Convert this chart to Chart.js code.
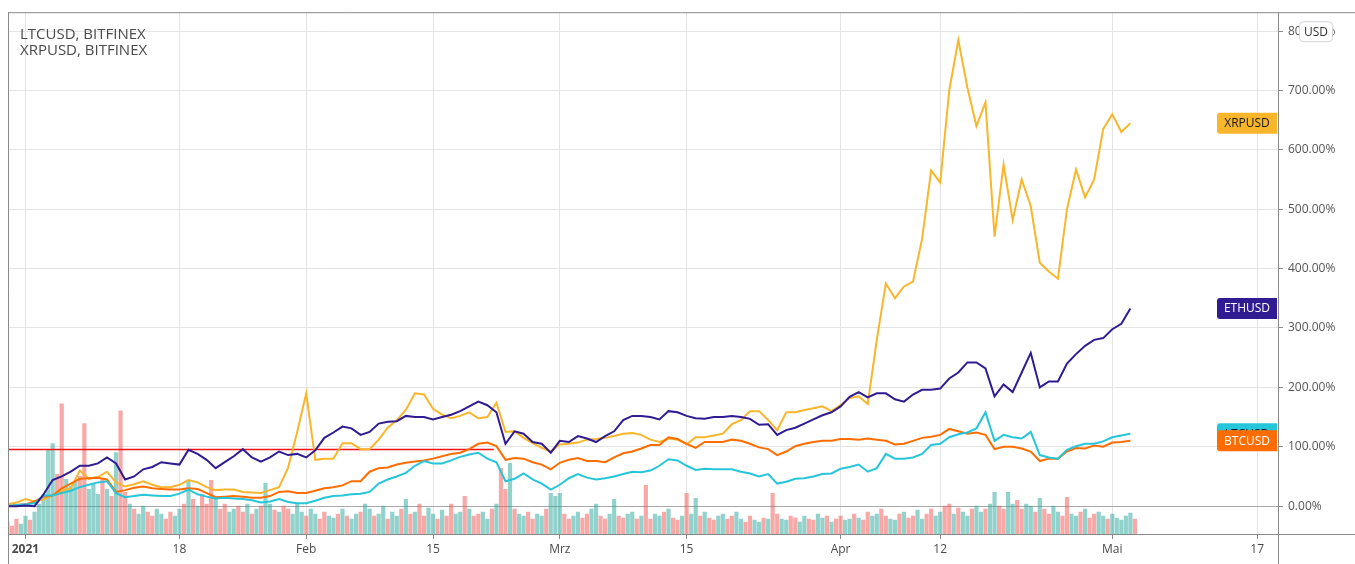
<!DOCTYPE html>
<html><head><meta charset="utf-8">
<script src="https://cdn.jsdelivr.net/npm/chart.js@4.4.1/dist/chart.umd.min.js"></script>
<style>html,body{margin:0;padding:0;background:#fff;}#wrap{width:1355px;height:564px;position:relative;}canvas{display:block;}</style>
</head><body><div id="wrap"><canvas id="c" width="1355" height="564"></canvas></div>
<script>
// Day index relative to 1 Jan 2021 of the first data point (daily values)
const startDay = -2;
const ethPct = [0,0,1,0,20,44,50,58,68,68,72,82,72,45,50,62,66,74,72,70,95,88,78,64,74,84,96,82,75,82,92,86,88,82,94,115,124,134,131,120,125,139,142,143,152,150,150,146,150,154,160,168,176,170,158,105,126,122,108,105,90,110,108,118,114,108,118,126,145,152,152,150,146,160,158,152,148,147,150,150,152,150,147,137,138,120,128,132,139,146,153,158,168,184,192,183,190,190,180,176,188,196,196,198,215,225,242,242,232,185,205,192,225,258,200,210,210,240,256,270,280,283,298,307,333];
const btcPct = [0,2,3,8,16,18,30,38,46,47,48,45,24,27,31,33,30,29,28,28,30,29,22,15,16,17,16,14,14,17,24,25,22,22,26,30,32,35,42,42,58,64,65,70,73,75,77,80,84,88,90,96,105,107,101,78,81,80,74,70,62,73,78,81,76,76,74,82,89,92,97,103,103,116,113,105,98,108,108,108,112,110,105,99,96,86,92,101,105,108,110,110,113,113,112,114,112,110,104,105,110,115,117,120,130,126,122,124,120,96,100,100,97,92,76,80,80,92,98,97,102,100,107,108,110];
const ltcPct = [0,2,3,5,18,18,22,26,32,36,40,42,22,15,17,19,18,17,17,21,28,20,16,13,14,13,12,10,6,8,12,7,5,5,9,14,17,18,20,21,24,38,45,50,56,68,76,72,72,77,83,87,90,80,74,42,46,55,45,38,28,36,47,54,48,45,47,50,54,58,57,60,68,79,77,68,61,63,62,62,62,58,55,50,54,38,41,46,47,50,54,55,63,66,70,58,64,88,80,80,82,88,103,105,116,121,124,131,158,110,120,116,114,125,86,82,80,95,101,105,105,109,116,119,122];
const xrpPct = [3,6,12,8,11,18,26,30,60,46,49,58,40,33,37,42,36,32,32,36,44,40,32,27,28,28,24,23,22,27,32,65,125,190,78,80,80,106,106,96,96,112,132,145,162,190,188,164,154,148,152,158,148,150,174,125,126,115,106,98,92,104,105,107,112,113,115,118,122,123,120,112,108,114,112,104,116,116,119,122,138,145,160,160,145,128,158,158,162,165,168,160,170,182,185,172,280,375,350,370,378,450,565,545,700,785,705,640,680,454,575,482,550,505,410,395,383,500,567,520,550,635,660,630,645];
// Volume of the main symbol, two bars per day (arbitrary units), and bar direction (1 = up, 0 = down)
const volume = [12,8,15,10,18,14,22,30,40,85,91,60,131,55,48,52,58,111,45,50,40,55,45,38,82,124,42,30,25,20,28,22,18,25,20,15,22,18,25,30,54,35,28,40,30,54,35,25,30,22,25,28,22,30,20,25,28,51,30,24,22,28,25,20,30,22,18,25,20,15,22,18,16,20,25,18,15,20,22,30,25,18,20,28,15,22,18,25,35,20,22,30,18,26,20,15,24,18,30,20,22,38,25,18,20,22,15,25,30,66,45,71,25,20,18,22,15,20,18,25,41,38,41,20,15,18,22,16,20,25,30,18,15,20,35,18,16,20,22,15,18,49,15,20,18,22,25,16,14,18,41,20,36,18,22,16,14,18,20,15,18,22,15,12,18,14,12,16,15,41,20,15,14,18,16,12,18,15,14,20,16,18,12,15,18,14,15,20,16,14,22,18,20,25,18,15,14,20,22,16,18,24,15,20,25,18,22,28,30,20,26,22,18,25,28,22,25,30,42,28,25,42,30,34,25,30,28,22,36,25,20,28,22,18,37,20,18,22,25,16,20,22,18,15,20,16,14,18,21,15];
const volUp = [1,0,0,1,1,0,1,1,1,1,1,0,0,1,1,1,0,0,1,1,1,0,1,0,1,0,0,1,0,1,1,0,0,1,1,0,0,1,1,0,1,0,1,0,0,0,1,0,0,1,1,0,0,1,0,1,0,1,1,0,1,0,0,1,1,1,0,1,1,0,0,1,1,0,1,0,1,1,0,1,1,0,1,1,0,1,1,0,1,0,1,0,0,1,1,0,1,0,0,1,1,0,1,0,0,1,1,0,1,0,0,1,0,1,1,0,0,1,1,0,1,1,1,0,0,1,1,0,0,1,1,0,0,1,1,0,0,1,1,0,1,0,0,1,1,0,1,0,0,1,0,1,1,0,1,0,0,1,1,0,0,1,1,0,0,1,1,0,1,0,0,1,1,0,0,1,1,0,0,1,1,0,1,0,0,1,1,0,1,0,0,1,1,0,0,1,1,0,1,0,0,1,1,0,0,1,1,0,0,1,0,1,1,0,1,1,0,1,1,0,0,1,1,0,0,1,1,0,1,0,0,1,1,0,0,1,1,0];
// X axis ticks (day index) and their labels
const tickDays = [0,17,31,45,59,73,90,101,120,136];
const tickLabels = ['2021','18','Feb','15','Mrz','15','Apr','12','Mai','17'];
const yTicks = [0,100,200,300,400,500,600,700,800];
// Horizontal drawing (red line): level in % and day range
const refLevel = [95.4, 95.4];
const refDays = [-2, 51.7];
const legendLines = ['LTCUSD, BITFINEX', 'XRPUSD, BITFINEX'];

const FAMILY = "'Open Sans', 'DejaVu Sans', sans-serif";
const days = ethPct.map((_, i) => startDay + i);
const volDays = volume.map((_, i) => startDay + i * 0.5);
const pts = arr => arr.map((v, i) => ({x: days[i], y: v}));

const series = [
  {name:'ETHUSD', data: ethPct, color:'#311b92', fg:'#ffffff', order:1},
  {name:'LTCUSD', data: ltcPct, color:'#26c6da', fg:'#131722', order:2},
  {name:'BTCUSD', data: btcPct, color:'#ff6d00', fg:'#ffffff', order:3},
  {name:'XRPUSD', data: xrpPct, color:'#f9b62b', fg:'#131722', order:4}
];

const framePlugin = {
  id: 'frame',
  afterDraw(chart) {
    const {ctx, chartArea: a, width, height} = chart;
    ctx.save();
    ctx.strokeStyle = '#8a8a8a';
    ctx.lineWidth = 1;
    ctx.beginPath();
    ctx.moveTo(a.left + 0.5, a.top); ctx.lineTo(a.left + 0.5, height);
    ctx.moveTo(a.left, a.top + 0.5); ctx.lineTo(width, a.top + 0.5);
    ctx.moveTo(a.right + 0.5, a.top); ctx.lineTo(a.right + 0.5, height);
    ctx.moveTo(a.left, a.bottom + 0.5); ctx.lineTo(width, a.bottom + 0.5);
    ctx.stroke();
    // legend text
    ctx.fillStyle = '#4a4a4a';
    ctx.font = '15px ' + FAMILY;
    ctx.textBaseline = 'middle';
    ctx.textAlign = 'left';
    legendLines.forEach((t, i) => ctx.fillText(t, a.left + 12, a.top + 23 + i * 16));
    // end labels
    const ys = chart.scales.y;
    const drawOrder = ['XRPUSD','ETHUSD','LTCUSD','BTCUSD'];
    ctx.font = '12px ' + FAMILY;
    ctx.textAlign = 'center';
    drawOrder.forEach(n => {
      const s = series.find(q => q.name === n);
      const yv = ys.getPixelForValue(s.data[s.data.length - 1]);
      const w = 60, h = 21, x0 = a.right - 61;
      ctx.fillStyle = s.color;
      ctx.beginPath();
      ctx.roundRect(x0, yv - h / 2, w, h, [3, 0, 0, 3]);
      ctx.fill();
      ctx.fillStyle = s.fg;
      ctx.fillText(n, x0 + w / 2, yv + 0.5);
    });
    // USD badge
    const bx = a.right + 21, by = a.top + 9;
    ctx.fillStyle = '#ffffff';
    ctx.strokeStyle = '#cfd2d8';
    ctx.beginPath();
    ctx.roundRect(bx + 0.5, by + 0.5, 33, 20, 4);
    ctx.fill(); ctx.stroke();
    ctx.fillStyle = '#333';
    ctx.font = '12px ' + FAMILY;
    ctx.fillText('USD', bx + 17, by + 11);
    ctx.restore();
  }
};

const datasets = series.map(s => ({
  type: 'line', label: s.name, data: pts(s.data), borderColor: s.color, borderWidth: 2,
  pointRadius: 0, tension: 0, order: s.order, yAxisID: 'y', xAxisID: 'x'
}));
datasets.push({
  type: 'line', label: 'line', data: refDays.map((d, i) => ({x: d, y: refLevel[i]})),
  borderColor: '#f01414', borderWidth: 1.3, pointRadius: 0, order: 5, yAxisID: 'y', xAxisID: 'x'
});
datasets.push({
  type: 'bar', label: 'Volume', data: volume.map((v, i) => ({x: volDays[i], y: v})),
  backgroundColor: volUp.map(u => u ? 'rgba(38,166,154,0.5)' : 'rgba(239,83,80,0.5)'),
  barThickness: 3.5, order: 10, yAxisID: 'vol', xAxisID: 'x'
});

new Chart(document.getElementById('c'), {
  type: 'line',
  data: { datasets },
  plugins: [framePlugin],
  options: {
    responsive: false, animation: false, devicePixelRatio: 1,
    layout: { padding: { left: 8, top: 9, right: 0, bottom: 0 } },
    plugins: { legend: { display: false }, tooltip: { enabled: false } },
    scales: {
      x: {
        type: 'linear', min: -1.93, max: 138.3, offset: false,
        afterBuildTicks: s => { s.ticks = tickDays.map(v => ({value: v})); },
        afterFit: s => { s.height = 30; },
        ticks: {
          autoSkip: false, maxRotation: 0, padding: 3, color: '#4a4a4a',
          callback: v => tickLabels[tickDays.indexOf(v)],
          font: c => ({family: FAMILY, size: 12, weight: c.index === 0 ? 'bold' : 'normal'})
        },
        grid: { color: '#e4e4e4', tickLength: 5, tickColor: '#8a8a8a', offset: false },
        border: { display: false }
      },
      y: {
        position: 'right', min: -46.9, max: 831.8,
        afterBuildTicks: s => { s.ticks = yTicks.map(v => ({value: v})); },
        afterFit: s => { s.width = 77; },
        ticks: { padding: 5, color: '#555555', font: {family: FAMILY, size: 12},
          callback: v => v.toFixed(2) + '%' },
        grid: { color: c => (c.tick && c.tick.value === 0) ? '#a8a8a8' : '#e4e4e4', tickLength: 5, tickColor: '#8a8a8a' },
        border: { display: false }
      },
      vol: { display: false, min: 0, max: 525 }
    }
  }
});
</script>
</body></html>
